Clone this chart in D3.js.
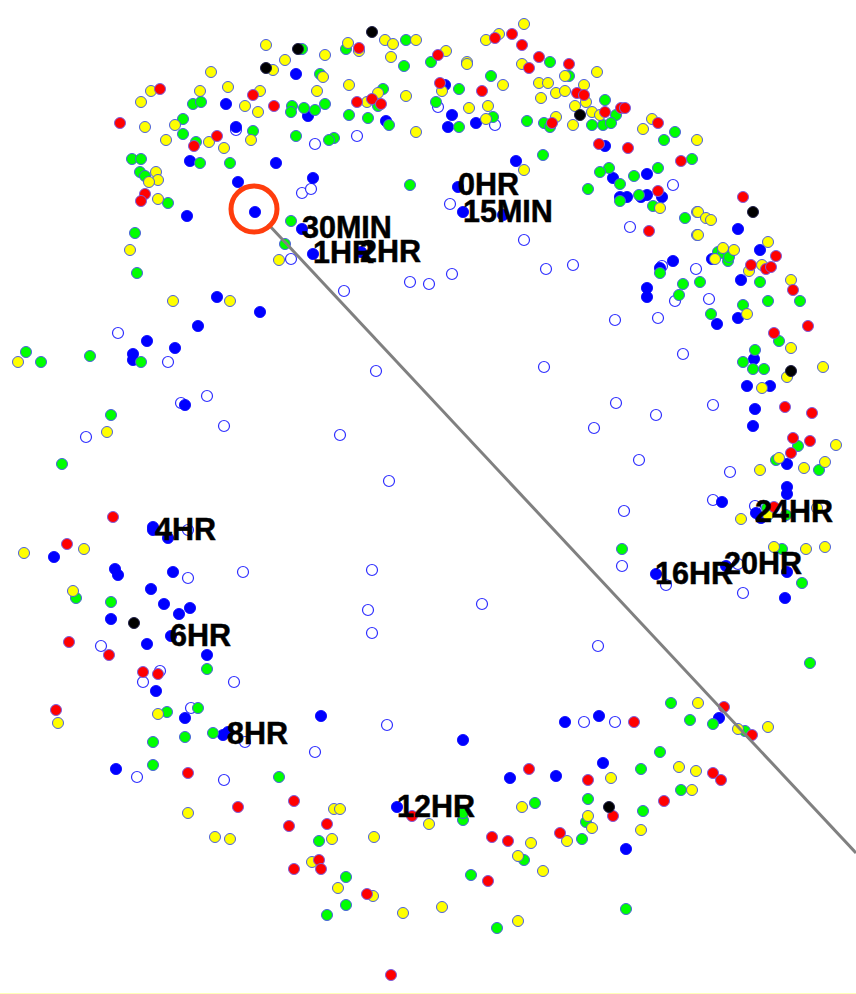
<!DOCTYPE html>
<html>
<head>
<meta charset="utf-8">
<script src="https://d3js.org/d3.v7.min.js"></script>
<style>
  html, body { margin: 0; padding: 0; background: #fff; }
  svg { display: block; }
</style>
</head>
<body>
<div id="body"></div>
<script>
// values, [x, y] on the plot's own grid
const openPts = [[236,130],[315,144],[357,136],[302,193],[311,189],[291,259],[438,107],[495,125],[673,185],[450,204],[630,227],[524,240],[344,291],[410,282],[429,284],[452,274],[546,269],[573,265],[662,266],[696,269],[709,299],[675,301],[615,320],[658,318],[683,354],[616,403],[656,415],[713,405],[639,460],[730,472],[713,500],[755,506],[624,511],[622,566],[666,585],[738,564],[743,593],[598,646],[376,371],[544,367],[340,435],[389,481],[372,570],[368,610],[372,633],[482,604],[594,428],[118,333],[168,362],[181,403],[207,396],[224,426],[86,437],[188,530],[188,578],[243,572],[101,646],[160,671],[143,682],[234,682],[191,708],[245,742],[137,777],[224,780],[387,725],[315,752],[584,722],[615,722]];

const bluePts = [[296,74],[226,104],[308,116],[236,127],[386,121],[190,161],[276,163],[313,178],[238,182],[255,212],[187,216],[302,229],[313,254],[361,252],[445,85],[452,115],[448,127],[476,123],[516,161],[458,187],[463,212],[503,215],[605,146],[613,178],[647,174],[620,197],[627,197],[641,197],[647,195],[662,197],[673,261],[660,268],[738,229],[760,250],[741,280],[647,288],[647,297],[738,318],[717,324],[754,359],[747,386],[770,386],[755,409],[753,426],[712,259],[787,464],[787,487],[787,494],[722,502],[756,513],[761,518],[656,574],[726,566],[787,572],[785,598],[217,297],[260,312],[198,326],[147,341],[175,348],[133,354],[133,360],[185,405],[153,527],[153,530],[168,538],[54,557],[115,569],[118,575],[173,572],[151,589],[164,604],[190,608],[179,614],[111,619],[171,636],[147,644],[207,655],[156,691],[185,718],[223,735],[228,732],[116,769],[321,716],[463,740],[510,778],[556,776],[397,807],[565,722],[599,716],[719,718],[603,763],[626,849]];

const greenPts = [[302,49],[346,49],[320,74],[404,66],[383,89],[378,106],[193,104],[201,102],[292,106],[291,112],[304,108],[315,110],[325,104],[349,115],[368,118],[389,125],[183,119],[183,134],[196,142],[253,131],[296,136],[334,138],[329,140],[132,159],[141,159],[200,163],[230,163],[140,172],[145,176],[168,203],[291,221],[285,244],[135,233],[137,273],[406,40],[431,62],[550,62],[491,76],[569,76],[459,89],[436,102],[493,117],[527,121],[544,123],[550,127],[605,100],[616,115],[592,125],[603,125],[611,123],[675,132],[664,140],[459,127],[543,155],[692,159],[658,168],[634,176],[609,168],[600,172],[620,184],[588,189],[410,185],[639,195],[620,201],[653,206],[685,218],[660,273],[718,252],[723,253],[728,261],[729,257],[683,284],[679,295],[700,282],[760,282],[768,301],[800,301],[743,305],[711,314],[779,341],[755,350],[743,362],[753,369],[764,369],[798,446],[776,460],[819,470],[622,549],[782,549],[802,583],[810,663],[767,508],[786,515],[26,352],[41,362],[90,356],[141,362],[111,415],[62,464],[76,598],[111,602],[207,669],[167,712],[198,708],[213,733],[153,742],[185,737],[153,765],[279,777],[535,803],[463,820],[463,813],[319,841],[346,877],[346,905],[327,915],[471,875],[497,928],[524,860],[671,703],[690,720],[713,724],[745,731],[660,752],[641,769],[681,790],[588,799],[643,811],[586,822],[582,839],[626,909]];

const yellowPts = [[266,45],[285,60],[325,55],[273,70],[211,72],[323,77],[348,43],[385,40],[393,44],[391,57],[359,51],[228,87],[200,91],[151,91],[141,102],[260,91],[317,91],[349,85],[378,93],[367,102],[245,106],[258,112],[175,125],[145,127],[166,140],[209,142],[224,148],[251,140],[156,172],[158,180],[149,182],[158,199],[130,250],[279,260],[416,40],[446,51],[467,62],[467,64],[486,40],[499,34],[524,24],[522,64],[406,96],[442,91],[503,85],[539,83],[548,83],[565,76],[597,72],[584,85],[556,93],[565,91],[541,98],[586,102],[575,106],[469,108],[488,106],[486,119],[556,117],[592,112],[600,115],[573,125],[416,132],[652,119],[643,129],[697,140],[524,170],[660,208],[697,212],[697,235],[698,212],[706,218],[711,220],[698,235],[723,248],[734,250],[715,259],[768,242],[749,271],[762,265],[791,280],[747,314],[791,348],[823,367],[787,377],[762,388],[836,445],[779,458],[760,470],[804,468],[825,462],[741,519],[817,508],[768,515],[774,547],[806,549],[825,547],[173,301],[230,301],[18,362],[107,432],[24,553],[84,549],[73,591],[158,714],[58,723],[188,813],[215,837],[230,839],[334,809],[340,809],[522,807],[429,824],[332,839],[374,837],[531,843],[518,856],[312,862],[543,871],[338,888],[373,896],[403,913],[442,907],[518,921],[698,703],[738,729],[768,727],[679,767],[696,771],[611,778],[692,790],[588,816],[592,828],[641,830],[567,841]];

const redPts = [[160,89],[120,123],[253,95],[274,106],[217,136],[194,146],[357,102],[372,99],[381,104],[359,48],[145,194],[141,201],[438,55],[495,38],[512,34],[522,45],[539,57],[529,68],[569,64],[440,83],[482,91],[577,93],[584,95],[605,112],[621,108],[625,108],[552,123],[658,123],[599,144],[628,148],[681,161],[658,191],[649,231],[743,197],[751,265],[776,256],[766,269],[771,267],[793,290],[808,326],[774,333],[785,407],[812,413],[793,438],[810,441],[791,453],[774,507],[113,517],[67,544],[69,642],[109,655],[143,672],[158,674],[56,710],[188,773],[238,807],[294,801],[289,826],[327,824],[412,816],[492,837],[508,841],[319,860],[321,869],[294,869],[488,881],[367,894],[391,975],[529,769],[560,833],[634,722],[724,707],[752,735],[588,780],[713,773],[721,780],[664,801],[613,816]];

const blackPts = [[298,49],[266,68],[372,32],[580,115],[753,212],[791,371],[134,623],[609,807]];

const timeLabels = ["0HR","15MIN","30MIN","1HR","2HR","4HR","6HR","8HR","12HR","16HR","20HR","24HR"];
const labelX = [458,463,302,313,360,155,170,227,397,655,724,755];
const labelY = [195,222,238,263,262,540,646,744,817,584,574,522];

const pointer = [[268,224],[856,853]];
const ringCentre = [254,209];

var width = 856, height = 994;

let x = d3.scaleLinear().domain([0, 856]).range([0, width]);
let y = d3.scaleLinear().domain([0, 994]).range([0, height]);

let svg = d3.select("#body").append("svg")
    .attr("width", width)
    .attr("height", height);

// bottom layers first, black dots end up on top
let layers = [
    {pts: openPts,   fill: "#ffffff", stroke: "#2f2fff", r: 5.5, sw: 1.2},
    {pts: bluePts,   fill: "#0000ff", stroke: "#0000ff", r: 5.6, sw: 0.8},
    {pts: greenPts,  fill: "#00ff00", stroke: "#4a5fe0", r: 5.5, sw: 1},
    {pts: yellowPts, fill: "#ffff00", stroke: "#4a5fe0", r: 5.5, sw: 1},
    {pts: redPts,    fill: "#ff0000", stroke: "#7a5fe0", r: 5.5, sw: 1},
    {pts: blackPts,  fill: "#000000", stroke: "#20204a", r: 5.5, sw: 1}
];

layers.forEach(l => {
    svg.append("g").selectAll("circle")
        .data(l.pts)
        .enter()
        .append("circle")
        .attr("cx", d => x(d[0]))
        .attr("cy", d => y(d[1]))
        .attr("r", l.r)
        .attr("fill", l.fill)
        .attr("stroke", l.stroke)
        .attr("stroke-width", l.sw);
});

svg.append("line")
    .attr("x1", x(pointer[0][0]))
    .attr("y1", y(pointer[0][1]))
    .attr("x2", x(pointer[1][0]))
    .attr("y2", y(pointer[1][1]))
    .attr("stroke", "#808080")
    .attr("stroke-width", 3);

svg.append("circle")
    .attr("cx", x(ringCentre[0]))
    .attr("cy", y(ringCentre[1]))
    .attr("r", 23)
    .attr("fill", "none")
    .attr("stroke", "#ff3d0d")
    .attr("stroke-width", 5);

svg.append("g").selectAll("text")
    .data(timeLabels)
    .enter()
    .append("text")
    .attr("x", (d, i) => x(labelX[i]))
    .attr("y", (d, i) => y(labelY[i]))
    .attr("font-family", "'Liberation Sans', Arial, sans-serif")
    .attr("font-weight", "bold")
    .attr("font-size", 30.5)
    .attr("fill", "#000")
    .attr("stroke", "#000")
    .attr("stroke-width", 0.5)
    .text(d => d);

// thin pale strip along the bottom edge of the picture
svg.append("rect")
    .attr("x", 0)
    .attr("y", height - 1)
    .attr("width", width)
    .attr("height", 1)
    .attr("fill", "#ffffb8");
</script>
</body>
</html>
